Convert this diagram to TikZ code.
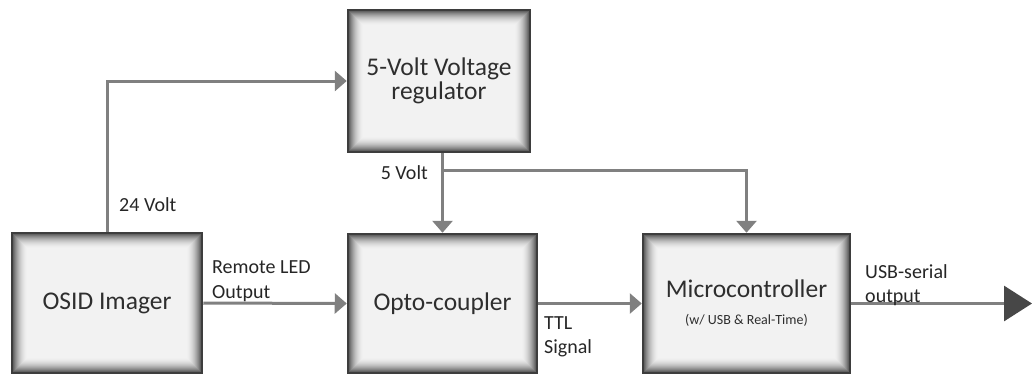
\documentclass[tikz,border=0pt]{standalone}
\usepackage{fontspec}
\setmainfont{Carlito}
\usetikzlibrary{arrows.meta}
\tikzset{
  blk/.style={draw=black!76, line width=2.5pt, inner sep=0pt, align=center,
    text=black!82, font=\fontsize{25.5}{24}\selectfont,
    path picture={
      \foreach \k in {0,...,16}{
        \pgfmathsetmacro\g{5+64*(1-\k/16)^2}
        \fill[black!\g] ([shift={(\k*1.0pt,-\k*1.0pt)}]path picture bounding box.north west)
          rectangle ([shift={(-\k*1.0pt,\k*1.0pt)}]path picture bounding box.south east);
      }
    }},
  lbl/.style={inner sep=0pt, align=left, text=black!85, font=\fontsize{20}{24.5}\selectfont},
  conn/.style={draw=black!50, line width=3pt, -{Triangle[length=12pt,width=20pt]}},
}
\begin{document}
\begin{tikzpicture}[x=1pt,y=-1pt]
\useasboundingbox (0,0) rectangle (1032,376);
\node[blk, minimum width=190pt, minimum height=140pt] (osid) at (107,303) {OSID Imager};
\node[blk, minimum width=182pt, minimum height=142pt] (reg) at (439,81) {5-Volt Voltage\\regulator};
\node[blk, minimum width=189pt, minimum height=139pt] (opto) at (442.5,303.5) {Opto-coupler};
\node[blk, minimum width=207pt, minimum height=139pt] (micro) at (746.5,303.5)
  {Microcontroller\\[3pt]{\fontsize{14}{14}\selectfont (w/ USB \& Real-Time)}};
\coordinate (j) at (442.5,170);
\coordinate (out) at (1032,303.5);
% connectors
\draw[conn] (osid.north) |- (reg.west);
\draw[conn] (reg.south -| opto.north) -- (opto.north);
\draw[conn] (j) -| (micro.north);
\draw[conn] (osid.east) -- (opto.west);
\draw[conn] (opto.east) -- (micro.west);
\draw[draw=black!50, line width=3pt, -{Triangle[length=28pt,width=35pt,color=black!72]}] (micro.east) -- (out);
% labels
\node[lbl, anchor=west] (l24) at (119,205) {24 Volt};
\node[lbl, anchor=east] (l5) at (428,173) {5 Volt};
\node[lbl, anchor=west] (lrem) at (212,281) {Remote LED\\Output};
\node[lbl, anchor=west] (lttl) at (544,337) {TTL\\Signal};
\node[lbl, anchor=west] (lusb) at (865,285) {USB-serial\\output};
\end{tikzpicture}
\end{document}
